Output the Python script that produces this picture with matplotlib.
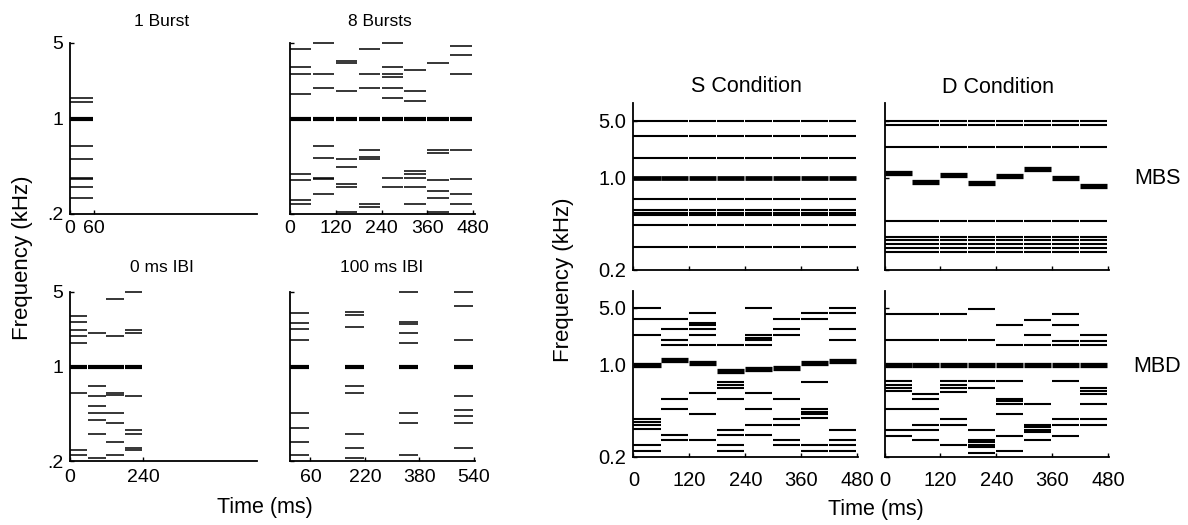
import numpy as np
import matplotlib
matplotlib.use("Agg")
import matplotlib.pyplot as plt

plt.rcParams["font.family"] = ["Liberation Sans", "DejaVu Sans"]

W, H = 1188, 525

# ---- data (frequencies in kHz, onsets in ms) ----
dur = 60

one_onsets = [0]
one_target = [1.0]
one_freqs = [[1.55, 1.42, 0.59, 0.46, 0.337, 0.327, 0.29, 0.248]]

eight_onsets = [0, 60, 120, 180, 240, 300, 360, 420]
eight_target = [1.0] * 8
eight_freqs = [
    [4.39, 2.95, 2.57, 1.66, 0.36, 0.325, 0.239, 0.227],
    [5.0, 2.57, 1.90, 0.59, 0.475, 0.336, 0.327, 0.263],
    [3.40, 3.22, 1.78, 0.46, 0.40, 0.304, 0.29, 0.206],
    [4.39, 2.57, 1.90, 0.55, 0.48, 0.46, 0.227, 0.219],
    [5.0, 2.95, 2.57, 2.41, 1.90, 1.55, 0.336, 0.29],
    [2.80, 1.78, 1.43, 0.378, 0.36, 0.336, 0.29, 0.227],
    [3.22, 0.55, 0.52, 0.325, 0.273, 0.248, 0.206],
    [4.68, 3.82, 2.57, 0.55, 0.33, 0.263, 0.227],
]

ibi0_onsets = [0, 60, 120, 180]
ibi0_target = [1.0] * 4
ibi0_freqs = [
    [2.98, 2.58, 2.20, 1.91, 1.65, 0.596, 0.23, 0.217],
    [2.04, 0.68, 0.565, 0.465, 0.41, 0.364, 0.29, 0.208],
    [4.33, 1.91, 0.60, 0.575, 0.41, 0.348, 0.26, 0.217],
    [5.0, 2.20, 2.04, 0.565, 0.31, 0.29, 0.238, 0.23],
]

ibi100_onsets = [0, 160, 320, 480]
ibi100_target = [1.0] * 4
ibi100_freqs = [
    [3.18, 2.56, 2.21, 1.75, 0.41, 0.322, 0.26, 0.216],
    [3.22, 3.03, 2.34, 0.685, 0.60, 0.29, 0.238, 0.208],
    [5.0, 2.58, 2.46, 2.03, 1.64, 0.41, 0.348, 0.216],
    [5.0, 3.68, 1.75, 0.565, 0.44, 0.39, 0.348, 0.238],
]

cond_onsets = [0, 60, 120, 180, 240, 300, 360, 420]

s_mbs_target = [1.0] * 8
s_mbs_freqs = [[5.0, 3.18, 1.72, 0.59, 0.465, 0.44, 0.42, 0.35, 0.252]] * 8

d_mbs_target = [1.12, 0.90, 1.07, 0.88, 1.05, 1.24, 1.0, 0.815]
d_mbs_freqs = [[5.0, 4.45, 2.29, 0.377, 0.288, 0.276, 0.261, 0.247, 0.236]] * 8

s_mbd_target = [0.98, 1.12, 1.04, 0.845, 0.885, 0.92, 1.04, 1.10]
s_mbd_freqs = [
    [5.0, 3.61, 2.27, 0.312, 0.296, 0.282, 0.268, 0.222, 0.211],
    [3.55, 2.65, 1.95, 1.68, 0.449, 0.37, 0.248, 0.234],
    [4.23, 3.22, 3.00, 2.65, 2.27, 1.68, 0.51, 0.335, 0.234],
    [1.68, 0.645, 0.60, 0.566, 0.449, 0.266, 0.248, 0.222, 0.211],
    [5.0, 2.27, 2.10, 1.95, 1.68, 0.51, 0.37, 0.283, 0.248],
    [3.55, 2.65, 2.27, 0.449, 0.312, 0.283, 0.234, 0.222],
    [4.23, 3.61, 0.645, 0.37, 0.351, 0.335, 0.317, 0.222, 0.211],
    [5.0, 4.31, 2.65, 1.95, 0.266, 0.234, 0.222, 0.211],
]

d_mbd_target = [1.0] * 8
d_mbd_freqs = [
    [4.19, 1.97, 0.66, 0.60, 0.566, 0.53, 0.37, 0.266, 0.246],
    [4.19, 1.97, 0.50, 0.449, 0.37, 0.285, 0.266, 0.234],
    [4.19, 1.97, 0.66, 0.61, 0.566, 0.515, 0.312, 0.285, 0.222],
    [4.86, 1.97, 0.66, 0.566, 0.266, 0.234, 0.228, 0.222, 0.217, 0.207],
    [3.03, 1.68, 0.66, 0.449, 0.425, 0.403, 0.335, 0.246, 0.21],
    [3.52, 2.27, 1.68, 0.403, 0.285, 0.276, 0.266, 0.256, 0.234],
    [4.19, 3.03, 1.93, 1.68, 0.66, 0.312, 0.285, 0.246],
    [2.27, 1.93, 1.68, 0.566, 0.53, 0.50, 0.403, 0.312, 0.285],
]

left_yticks = [0.2, 1, 5]
left_ylabels = [".2", "1", "5"]
right_yticks = [0.2, 1.0, 5.0]
right_ylabels = ["0.2", "1.0", "5.0"]
cond_xticks = [0, 120, 240, 360, 480]


def box(x0, x1, ytop, ybot):
    return [x0 / W, 1 - ybot / H, (x1 - x0) / W, (ybot - ytop) / H]


def ftext(x, y, s, **kw):
    fig.text(x / W, 1 - y / H, s, ha="center", va="center", **kw)


def setup(ax, c, ylim, xlim, xticks, yticks, ylabels, show_y, show_x, xpad, fs):
    ax.set_yscale("function", functions=(lambda f: np.log10(np.clip(f - c, 1e-4, None)),
                                         lambda u: 10 ** u + c))
    ax.set_ylim(*ylim)
    ax.set_xlim(*xlim)
    ax.set_yticks(yticks)
    ax.set_yticklabels(ylabels if show_y else [])
    ax.minorticks_off()
    ax.set_xticks(xticks)
    if not show_x:
        ax.set_xticklabels([])
    for s in ["top", "right"]:
        ax.spines[s].set_visible(False)
    for s in ["left", "bottom"]:
        ax.spines[s].set_linewidth(1.3)
    ax.tick_params(direction="in", length=3, width=1.0, labelsize=fs)
    ax.tick_params(axis="x", pad=xpad)
    ax.tick_params(axis="y", pad=5)
    ax.patch.set_alpha(0)


def draw(ax, onsets, freqs, target, lw, tlw, gap):
    for on, fr, tg in zip(onsets, freqs, target):
        ax.hlines(fr, on, on + dur - gap, colors="black", linewidth=lw, clip_on=False,
                  capstyle="butt")
        ax.hlines(tg, on, on + dur - gap, colors="black", linewidth=tlw, clip_on=False,
                  capstyle="butt")


fig = plt.figure(figsize=(W / 100, H / 100), dpi=100)

CL, CR = 0.09, 0.15

ax = fig.add_axes(box(70, 257, 43, 214))
setup(ax, CL, (0.2, 5), (0, 470), [0, 60], left_yticks, left_ylabels, True, True, 4, 14)
draw(ax, one_onsets, one_freqs, one_target, 1.1, 3.0, 2)

ax = fig.add_axes(box(290, 475, 43, 214))
setup(ax, CL, (0.2, 5), (0, 485), cond_xticks, left_yticks, left_ylabels, False, True, 4, 14)
draw(ax, eight_onsets, eight_freqs, eight_target, 1.1, 3.0, 4)

ax = fig.add_axes(box(70, 257, 292, 461))
setup(ax, CL, (0.2, 5), (0, 615), [0, 240], left_yticks, left_ylabels, True, True, 6, 14)
draw(ax, ibi0_onsets, ibi0_freqs, ibi0_target, 1.1, 3.0, 3)

ax = fig.add_axes(box(290, 475, 292, 461))
setup(ax, CL, (0.2, 5), (0, 543), [60, 220, 380, 540], left_yticks, left_ylabels, False, True, 6, 14)
draw(ax, ibi100_onsets, ibi100_freqs, ibi100_target, 1.1, 3.0, 3)

ax = fig.add_axes(box(633.5, 858, 103.4, 270))
setup(ax, CR, (0.2, 8.4), (0, 482), cond_xticks, right_yticks, right_ylabels, True, False, 10, 14.5)
draw(ax, cond_onsets, s_mbs_freqs, s_mbs_target, 1.5, 3.4, 2)

ax = fig.add_axes(box(884.5, 1109, 103.4, 270))
setup(ax, CR, (0.2, 8.4), (0, 482), cond_xticks, right_yticks, right_ylabels, False, False, 10, 14.5)
draw(ax, cond_onsets, d_mbs_freqs, d_mbs_target, 1.5, 3.8, 2)

ax = fig.add_axes(box(633.5, 858, 290.5, 457))
setup(ax, CR, (0.2, 8.4), (0, 482), cond_xticks, right_yticks, right_ylabels, True, True, 10, 14.5)
draw(ax, cond_onsets, s_mbd_freqs, s_mbd_target, 1.5, 3.8, 2)

ax = fig.add_axes(box(884.5, 1109, 290.5, 457))
setup(ax, CR, (0.2, 8.4), (0, 482), cond_xticks, right_yticks, right_ylabels, False, True, 10, 14.5)
draw(ax, cond_onsets, d_mbd_freqs, d_mbd_target, 1.5, 3.8, 2)

ftext(162, 22, "1 Burst", fontsize=12.5)
ftext(380, 22, "8 Bursts", fontsize=12.5)
ftext(162, 267, "0 ms IBI", fontsize=12.5)
ftext(382, 267, "100 ms IBI", fontsize=12.5)
ftext(746, 87, "S Condition", fontsize=15.5)
ftext(998, 88, "D Condition", fontsize=15.5)
ftext(1157, 178, "MBS", fontsize=15.5)
ftext(1157, 367, "MBD", fontsize=15.5)
ftext(23, 258, "Frequency (kHz)", fontsize=16, rotation=90)
ftext(563, 280, "Frequency (kHz)", fontsize=16, rotation=90)
ftext(265, 507, "Time (ms)", fontsize=15.5)
ftext(876, 509, "Time (ms)", fontsize=15.5)

fig.savefig("out.png", dpi=100)
